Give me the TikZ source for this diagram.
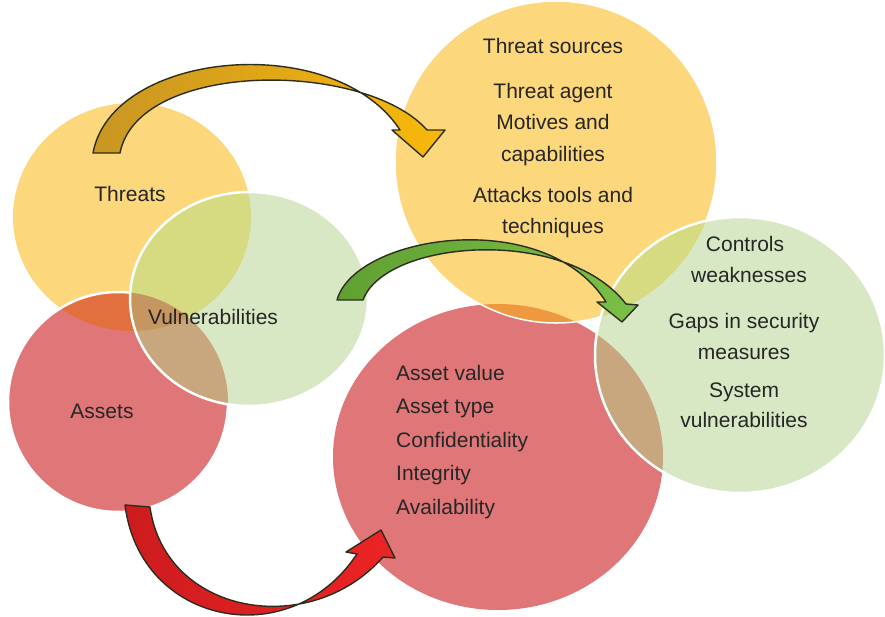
\documentclass[tikz,border=0pt]{standalone}
\usepackage{fontspec}
\setmainfont{Liberation Sans}
\definecolor{ylw}{RGB}{252,215,124}
\definecolor{rd}{RGB}{223,118,120}
\definecolor{grn}{RGB}{217,232,196}
\definecolor{ylwrd}{RGB}{226,112,62}
\definecolor{ylwgrn}{RGB}{214,218,128}
\definecolor{rdgrn}{RGB}{200,166,126}
\definecolor{allthree}{RGB}{198,150,96}
\definecolor{sliver}{RGB}{238,152,64}
\definecolor{txt}{RGB}{38,38,38}
\definecolor{edge}{RGB}{45,45,30}
\tikzset{
  lbl/.style={font=\fontsize{21}{31.5}\selectfont, text=txt, inner sep=0pt, anchor=base},
  rim/.style={draw=white, line width=2.5pt},
  blockarrow/.style={draw=edge, line width=1.4pt, line join=round}
}
% 圆
\newcommand\cThreat{(132,217) ellipse [x radius=119pt, y radius=114pt]}
\newcommand\cVuln{(249,299) ellipse [x radius=119pt, y radius=107pt]}
\newcommand\cAsset{(118,402) circle [radius=110pt]}
\newcommand\cSource{(556,162) circle [radius=161pt]}
\newcommand\cValue{(498,457) ellipse [x radius=165pt, y radius=153pt]}
\newcommand\cCtrl{(740,355) ellipse [x radius=145pt, y radius=138pt]}
\begin{document}
\begin{tikzpicture}[x=1pt, y=-1pt]
  \useasboundingbox (0,0) rectangle (885,616);
  % 左侧三个小圆
  \fill[ylw] \cThreat;
  \fill[rd] \cAsset;
  \begin{scope}
    \clip \cThreat; \fill[ylwrd] \cAsset;
  \end{scope}
  \draw[rim] \cAsset;
  \fill[grn] \cVuln;
  \begin{scope}
    \clip \cVuln;
    \fill[ylwgrn] \cThreat;
    \fill[rdgrn] \cAsset;
    \clip \cThreat; \fill[allthree] \cAsset;
  \end{scope}
  \draw[rim] \cVuln;
  % 右侧三个大圆
  \fill[rd] \cValue;
  \fill[ylw] \cSource;
  \begin{scope}
    \clip \cSource; \fill[sliver] \cValue;
  \end{scope}
  \draw[rim, line width=1.5pt] \cSource;
  \fill[grn] \cCtrl;
  \begin{scope}
    \clip \cCtrl;
    \fill[ylwgrn] \cSource;
    \fill[rdgrn] \cValue;
  \end{scope}
  \draw[rim] \cCtrl;
  % 弯箭头
  \shadedraw[blockarrow, left color={rgb,255:red,200;green,150;blue,35}, right color={rgb,255:red,248;green,184;blue,10}]
    (93,153) .. controls (112,50) and (335,30) .. (400,130) -- (392,130) -- (423,157)
    -- (445,130) -- (427,130) .. controls (365,60) and (138,60) .. (120,153) -- cycle;
  \shadedraw[blockarrow, left color={rgb,255:red,96;green,160;blue,50}, right color={rgb,255:red,122;green,192;blue,70}]
    (337,300) .. controls (355,235) and (545,205) .. (606,302) -- (597,302) -- (622,322)
    -- (638,305) -- (626,304) .. controls (565,225) and (385,240) .. (363,300) -- cycle;
  \shadedraw[blockarrow, left color={rgb,255:red,205;green,28;blue,30}, right color={rgb,255:red,236;green,36;blue,36}]
    (125,505) .. controls (140,625) and (290,655) .. (357,554) -- (346,552) -- (381,530)
    -- (395,558) -- (383,557) .. controls (310,640) and (165,615) .. (150,507) -- cycle;
  % 文字
  \node[lbl] (threats) at (130,201) {Threats};
  \node[lbl] (vuln) at (213,324) {Vulnerabilities};
  \node[lbl] (assets) at (102,418) {Assets};
  \node[lbl] (src) at (553,53) {Threat sources};
  \node[lbl] (agent) at (553,98) {Threat agent};
  \node[lbl] (motive) at (553,129.5) {Motives and};
  \node[lbl] (capab) at (553,161) {capabilities};
  \node[lbl] (tools) at (553,202) {Attacks tools and};
  \node[lbl] (techn) at (553,233) {techniques};
  \node[lbl] (ctrl) at (745,251) {Controls};
  \node[lbl] (weak) at (749,282) {weaknesses};
  \node[lbl] (gaps) at (744,328) {Gaps in security};
  \node[lbl] (meas) at (744,359) {measures};
  \node[lbl] (sys) at (744,397) {System};
  \node[lbl] (sysvuln) at (744,427) {vulnerabilities};
  \foreach \t [count=\i] in {Asset value, Asset type, Confidentiality, Integrity, Availability}
    \node[lbl, anchor=base west] (val\i) at (396,{380+33.5*(\i-1)}) {\t};
\end{tikzpicture}
\end{document}
